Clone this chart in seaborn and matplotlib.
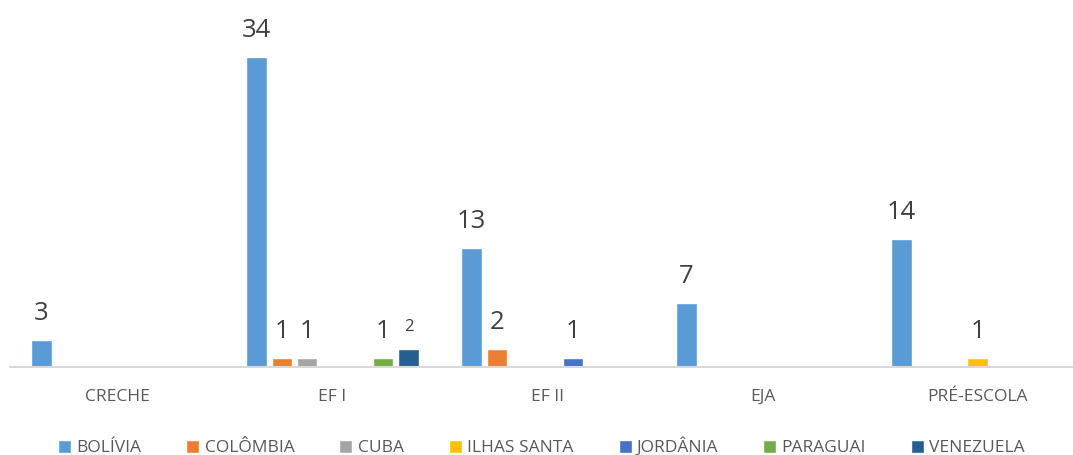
import pandas as pd
import matplotlib.pyplot as plt
import seaborn as sns

# data
etapas = ["CRECHE", "EF I", "EF II", "EJA", "PRÉ-ESCOLA"]
paises = ["BOLÍVIA", "COLÔMBIA", "CUBA", "ILHAS SANTA", "JORDÂNIA", "PARAGUAI", "VENEZUELA"]
cores = ["#5B9BD5", "#ED7D31", "#A5A5A5", "#FFC000", "#4472C4", "#70AD47", "#255E91"]

bolivia = [3, 34, 13, 7, 14]
colombia = [0, 1, 2, 0, 0]
cuba = [0, 1, 0, 0, 0]
ilhas_santa = [0, 0, 0, 0, 1]
jordania = [0, 0, 1, 0, 0]
paraguai = [0, 1, 0, 0, 0]
venezuela = [0, 2, 0, 0, 0]

series = [bolivia, colombia, cuba, ilhas_santa, jordania, paraguai, venezuela]
rows = []
for pais, vals in zip(paises, series):
    for etapa, v in zip(etapas, vals):
        if v > 0:
            rows.append({"Etapa": etapa, "Pais": pais, "Alunos": v})
df = pd.DataFrame(rows)

sns.set_style("white")
plt.rcParams["font.family"] = ["Open Sans", "DejaVu Sans"]

fig = plt.figure(figsize=(10.73, 4.55), dpi=100)
ax = fig.add_axes([10 / 1073, 88 / 455, 1063 / 1073, 347 / 455])

sns.barplot(data=df, x="Etapa", y="Alunos", hue="Pais", order=etapas,
            hue_order=paises, palette=cores, width=0.824, gap=0.2,
            saturation=1, ax=ax, legend=True)

# value labels
for cont, pais in zip(ax.containers, paises):
    for bar in cont:
        h = bar.get_height()
        if h != h or h <= 0:
            continue
        small = pais == "VENEZUELA"
        ax.annotate(str(int(h)), (bar.get_x() + bar.get_width() / 2, h),
                    xytext=(0, 10), textcoords="offset points",
                    ha="center", va="bottom", color="#404040",
                    fontsize=12 if small else 18.5)

ax.set_xlim(-0.5, 4.444)
ax.set_ylim(0, 38)
ax.set_xlabel("")
ax.set_ylabel("")
ax.set_yticks([])
ax.tick_params(axis="x", length=0, pad=16, labelsize=12.5, labelcolor="#595959")
for s in ["top", "right", "left"]:
    ax.spines[s].set_visible(False)
ax.spines["bottom"].set_color("#D9D9D9")
ax.spines["bottom"].set_linewidth(1.5)

ax.legend(loc="center", bbox_to_anchor=(0.5, -80 / 347), ncol=7,
          frameon=False, handlelength=0.75, handleheight=0.75, handletextpad=0.3,
          columnspacing=2.6, fontsize=12.5, labelcolor="#595959")

fig.savefig("out.png", dpi=100)
